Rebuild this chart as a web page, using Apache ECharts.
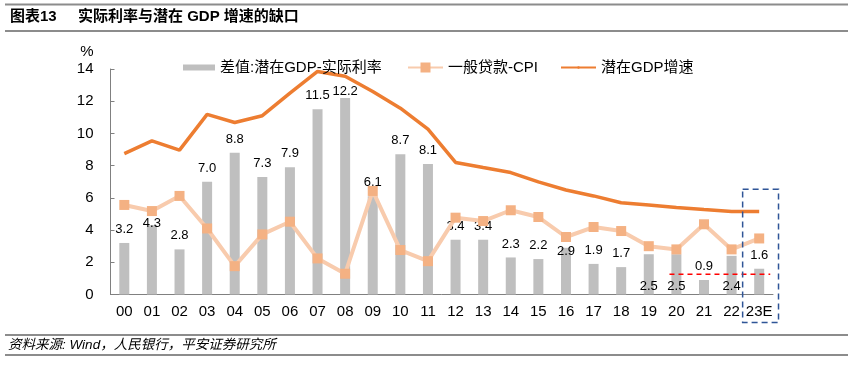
<!DOCTYPE html>
<html>
<head>
<meta charset="utf-8">
<script src="https://cdn.jsdelivr.net/npm/echarts@6/dist/echarts.min.js"></script>
<style>html,body{margin:0;padding:0;background:#fff;}#c{width:853px;height:367px;}</style>
</head>
<body>
<div id="c"></div>
<script>
const categories = ['00','01','02','03','04','05','06','07','08','09','10','11','12','13','14','15','16','17','18','19','20','21','22','23E'];
const gapValues = [3.2,4.3,2.8,7.0,8.8,7.3,7.9,11.5,12.2,6.1,8.7,8.1,3.4,3.4,2.3,2.2,2.9,1.9,1.7,2.5,2.5,0.9,2.4,1.6];
const loanCpi = [5.56,5.18,6.12,4.10,1.76,3.73,4.52,2.24,1.29,6.43,2.76,2.07,4.77,4.56,5.23,4.81,3.57,4.19,3.94,3.00,2.80,4.36,2.80,3.48];
const potentialGdp = [8.75,9.54,8.96,11.18,10.68,11.10,12.50,13.85,13.55,12.60,11.57,10.27,8.20,7.88,7.57,6.99,6.49,6.12,5.70,5.56,5.40,5.27,5.16,5.15];
const refLine = [[20.25,1.25],[23.9,1.25]];
const yTicks = [0,2,4,6,8,10,12,14];
const seriesNames = ['差值:潜在GDP-实际利率','一般贷款-CPI','潜在GDP增速'];

const FONT = '"Liberation Sans", Arial, "Noto Sans CJK SC", sans-serif';
// label placement tweaks (index -> style)
const LABEL_ADJUST = {1:{offset:[0,12]},8:{offset:[0,7]},16:{offset:[0,17]},19:{position:'insideBottom',distance:1.5},20:{position:'insideBottom',distance:1.5},22:{position:'insideBottom',distance:1.5}};

const barData = gapValues.map((v,i)=>{
  const item = {value:v};
  if (LABEL_ADJUST[i]) item.label = LABEL_ADJUST[i];
  return item;
});

const chart = echarts.init(document.getElementById('c'));
const legendBase = {top:55, textStyle:{fontSize:15, color:'#000', fontFamily:FONT}, itemGap:5, selectedMode:false};
const option = {
  animation:false,
  textStyle:{fontFamily:FONT},
  grid:{left:110.5, right:80, top:69, bottom:72.5},
  legend:[
    Object.assign({}, legendBase, {left:178, itemWidth:32, itemHeight:6, data:[{name:seriesNames[0], icon:'rect'}]}),
    Object.assign({}, legendBase, {left:402, itemWidth:35, itemHeight:12.5, data:[seriesNames[1]]}),
    Object.assign({}, legendBase, {left:555, itemWidth:35, itemHeight:3, data:[seriesNames[2]]})
  ],
  xAxis:[
    {type:'category', data:categories, boundaryGap:true,
     axisLine:{lineStyle:{color:'#808080', width:1}},
     axisTick:{inside:true, length:4, interval:0, lineStyle:{color:'#808080'}},
     axisLabel:{fontSize:15, color:'#000', margin:10, interval:0, hideOverlap:false, fontFamily:FONT}},
    {type:'value', min:0, max:24, show:false}
  ],
  yAxis:[{type:'value', min:yTicks[0], max:yTicks[yTicks.length-1], interval:2,
    name:'%', nameLocation:'end', nameGap:10,
    nameTextStyle:{fontSize:15, color:'#000', align:'right', padding:[0,17,0,0], fontFamily:FONT},
    axisLine:{show:true, lineStyle:{color:'#808080', width:1}},
    axisTick:{show:true, inside:true, length:4, lineStyle:{color:'#808080'}},
    axisLabel:{fontSize:15, color:'#000', margin:17, fontFamily:FONT},
    splitLine:{show:false}}],
  series:[
    {name:seriesNames[0], type:'bar', data:barData, barWidth:10,
     itemStyle:{color:'#BFBFBF'},
     label:{show:true, position:'top', distance:7, fontSize:13, color:'#000', fontFamily:FONT,
       formatter:p=>Number(p.value).toFixed(1)}},
    {name:'ref', type:'line', xAxisIndex:1, data:refLine, symbol:'none', silent:true,
     lineStyle:{color:'#FF0000', width:1.5, type:[5,4]}},
    {name:seriesNames[1], type:'line', data:loanCpi, symbol:'rect', symbolSize:10,
     itemStyle:{color:'#F4B183'}, lineStyle:{color:'#F8CBAD', width:4}},
    {name:seriesNames[2], type:'line', data:potentialGdp, symbol:'none',
     itemStyle:{color:'#ED7D31'}, lineStyle:{color:'#ED7D31', width:3.5}}
  ]
};
chart.setOption(option);

const x0 = chart.convertToPixel({xAxisIndex:1}, 22.9);
const x1 = chart.convertToPixel({xAxisIndex:1}, 24.2);
const y0 = chart.convertToPixel({yAxisIndex:0}, 6.53);
const y1 = chart.convertToPixel({yAxisIndex:0}, -1.74);

chart.setOption({graphic:[
  {type:'line', shape:{x1:5,y1:4.5,x2:848,y2:4.5}, style:{stroke:'#8C8C8C', lineWidth:2}},
  {type:'line', shape:{x1:5,y1:31,x2:848,y2:31}, style:{stroke:'#8C8C8C', lineWidth:2}},
  {type:'text', left:10, top:9, style:{text:'图表13', fontSize:15, fontWeight:'bold', fill:'#000', fontFamily:FONT}},
  {type:'text', left:78, top:9, style:{text:'实际利率与潜在 GDP 增速的缺口', fontSize:15, fontWeight:'bold', fill:'#000', fontFamily:FONT}},
  {type:'line', shape:{x1:5,y1:335,x2:848,y2:335}, style:{stroke:'#8C8C8C', lineWidth:2}},
  {type:'line', shape:{x1:5,y1:355,x2:848,y2:355}, style:{stroke:'#8C8C8C', lineWidth:2}},
  {type:'text', left:8, top:338, style:{text:'资料来源: Wind，人民银行，平安证券研究所', fontSize:13.5, fontStyle:'italic', fill:'#000', fontFamily:FONT}},
  {type:'rect', shape:{x:x0, y:y0, width:x1-x0, height:y1-y0}, style:{fill:'none', stroke:'#2F5597', lineWidth:1.5, lineDash:[6,4]}, z:100}
]});
</script>
</body>
</html>
